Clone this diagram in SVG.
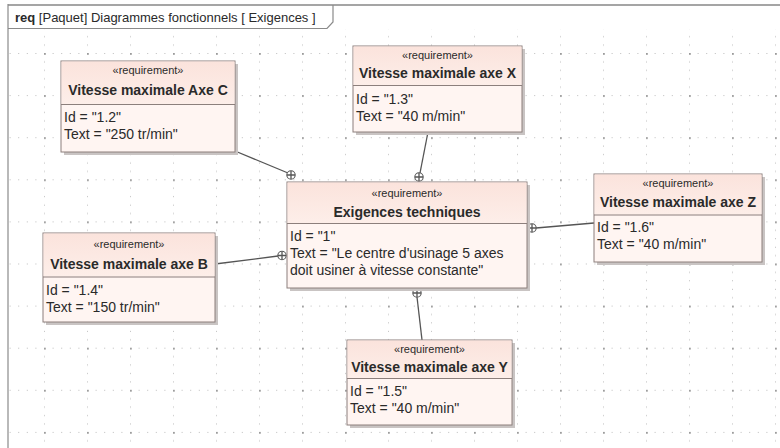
<svg xmlns="http://www.w3.org/2000/svg" width="780" height="448" viewBox="0 0 780 448">
<defs>
<pattern id="grid" patternUnits="userSpaceOnUse" x="44" y="53" width="43" height="42.1">
<rect x="0" y="0" width="1.8" height="1.8" fill="#9a9a9a"/>
<rect x="8.6" y="0" width="1" height="1" fill="#bdbdbd"/>
<rect x="17.2" y="0" width="1" height="1" fill="#bdbdbd"/>
<rect x="25.8" y="0" width="1" height="1" fill="#bdbdbd"/>
<rect x="34.4" y="0" width="1" height="1" fill="#bdbdbd"/>
<rect x="0" y="8.4" width="1" height="1" fill="#bdbdbd"/>
<rect x="0" y="16.8" width="1" height="1" fill="#bdbdbd"/>
<rect x="0" y="25.3" width="1" height="1" fill="#bdbdbd"/>
<rect x="0" y="33.7" width="1" height="1" fill="#bdbdbd"/>
</pattern>
<linearGradient id="hdr" x1="0" y1="0" x2="0" y2="1">
<stop offset="0" stop-color="#fbe3dc"/>
<stop offset="1" stop-color="#fdeee9"/>
</linearGradient>
</defs>
<style>
text{font-family:"Liberation Sans",Arial,sans-serif;fill:#2a2a2a}
.st{font-size:11px;text-anchor:middle}
.nm{font-size:14px;font-weight:bold;text-anchor:middle}
.at{font-size:14px}
.box{fill:#fff5f2;stroke:#8c7f7c;stroke-width:1}
.hd{fill:url(#hdr)}
.sh{fill:#c9c4c3}
.dv{stroke:#8c7f7c;stroke-width:1}
.cn{stroke:#555;stroke-width:1.3;fill:none}
.ci{fill:#fff;stroke:#555;stroke-width:1.1}
</style>
<rect x="0" y="0" width="780" height="448" fill="#ffffff"/>
<rect x="9" y="29" width="771" height="419" fill="url(#grid)"/>
<g id="frame">
<line x1="8" y1="5" x2="780" y2="5" stroke="#a5a5a5" stroke-width="2"/>
<line x1="8" y1="4" x2="8" y2="448" stroke="#8a8a8a" stroke-width="1.2"/>
<path d="M8,28.5 H327 L333,22 V5" fill="none" stroke="#8a8a8a" stroke-width="1.2"/>
<text x="15" y="22" style="font-size:13px"><tspan font-weight="bold">req</tspan> [Paquet] Diagrammes fonctionnels [ Exigences ]</text>
</g>
<g id="connectors">
<line class="cn" x1="235" y1="151" x2="288" y2="173"/>
<circle class="ci" cx="291" cy="175" r="4.2"/>
<path class="cn" d="M287,175 H295 M291,171 V179" stroke-width="0.9"/>
<line class="cn" x1="428" y1="132" x2="420" y2="173"/>
<circle class="ci" cx="419" cy="177" r="4.2"/>
<path class="cn" d="M415,177 H423 M419,173 V181" stroke-width="0.9"/>
<line class="cn" x1="594" y1="223" x2="536" y2="228"/>
<circle class="ci" cx="532" cy="228" r="4.2"/>
<path class="cn" d="M528,228 H536 M532,224 V232" stroke-width="0.9"/>
<line class="cn" x1="215" y1="264" x2="278" y2="256"/>
<circle class="ci" cx="282" cy="255.5" r="4.2"/>
<path class="cn" d="M278,255.5 H286 M282,251.5 V259.5" stroke-width="0.9"/>
<line class="cn" x1="422" y1="340" x2="417" y2="297"/>
<circle class="ci" cx="417" cy="293" r="4.2"/>
<path class="cn" d="M413,293 H421 M417,289 V297" stroke-width="0.9"/>
</g>
<g id="reqC">
<rect class="sh" x="64" y="64" width="174" height="91"/>
<rect class="box" x="61" y="61" width="174" height="91"/>
<rect class="hd" x="61.5" y="61.5" width="173" height="43"/>
<line class="dv" x1="61" y1="104.5" x2="235" y2="104.5"/>
<text class="st" x="148" y="74">«requirement»</text>
<text class="nm" x="148" y="95">Vitesse maximale Axe C</text>
<text class="at" x="64" y="122">Id = "1.2"</text>
<text class="at" x="64" y="139">Text = "250 tr/min"</text>
</g>
<g id="reqX">
<rect class="sh" x="356" y="49" width="169" height="86"/>
<rect class="box" x="353" y="46" width="169" height="86"/>
<rect class="hd" x="353.5" y="46.5" width="168" height="39"/>
<line class="dv" x1="353" y1="85.5" x2="522" y2="85.5"/>
<text class="st" x="437.5" y="59">«requirement»</text>
<text class="nm" x="437.5" y="78">Vitesse maximale axe X</text>
<text class="at" x="356" y="104">Id = "1.3"</text>
<text class="at" x="356" y="121">Text = "40 m/min"</text>
</g>
<g id="reqCentral">
<rect class="sh" x="290" y="185" width="240" height="106"/>
<rect class="box" x="287" y="182" width="240" height="106"/>
<rect class="hd" x="287.5" y="182.5" width="239" height="41"/>
<line class="dv" x1="287" y1="223.5" x2="527" y2="223.5"/>
<text class="st" x="407" y="197">«requirement»</text>
<text class="nm" x="407" y="217">Exigences techniques</text>
<text class="at" x="290" y="241">Id = "1"</text>
<text class="at" x="290" y="258">Text = "Le centre d'usinage 5 axes</text>
<text class="at" x="290" y="275">doit usiner à vitesse constante"</text>
</g>
<g id="reqZ">
<rect class="sh" x="597" y="177" width="168" height="88"/>
<rect class="box" x="594" y="174" width="168" height="88"/>
<rect class="hd" x="594.5" y="174.5" width="167" height="40"/>
<line class="dv" x1="594" y1="215" x2="762" y2="215"/>
<text class="st" x="678" y="187">«requirement»</text>
<text class="nm" x="678" y="207">Vitesse maximale axe Z</text>
<text class="at" x="597" y="232">Id = "1.6"</text>
<text class="at" x="597" y="249">Text = "40 m/min"</text>
</g>
<g id="reqB">
<rect class="sh" x="46" y="236" width="172" height="89"/>
<rect class="box" x="43" y="233" width="172" height="89"/>
<rect class="hd" x="43.5" y="233.5" width="171" height="43"/>
<line class="dv" x1="43" y1="277" x2="215" y2="277"/>
<text class="st" x="129" y="248">«requirement»</text>
<text class="nm" x="129" y="269">Vitesse maximale axe B</text>
<text class="at" x="46" y="295">Id = "1.4"</text>
<text class="at" x="46" y="312">Text = "150 tr/min"</text>
</g>
<g id="reqY">
<rect class="sh" x="350" y="343" width="165" height="85"/>
<rect class="box" x="347" y="340" width="165" height="85"/>
<rect class="hd" x="347.5" y="340.5" width="164" height="38"/>
<line class="dv" x1="347" y1="378.5" x2="512" y2="378.5"/>
<text class="st" x="429.5" y="353">«requirement»</text>
<text class="nm" x="429.5" y="372">Vitesse maximale axe Y</text>
<text class="at" x="350" y="396">Id = "1.5"</text>
<text class="at" x="350" y="413">Text = "40 m/min"</text>
</g>
</svg>
